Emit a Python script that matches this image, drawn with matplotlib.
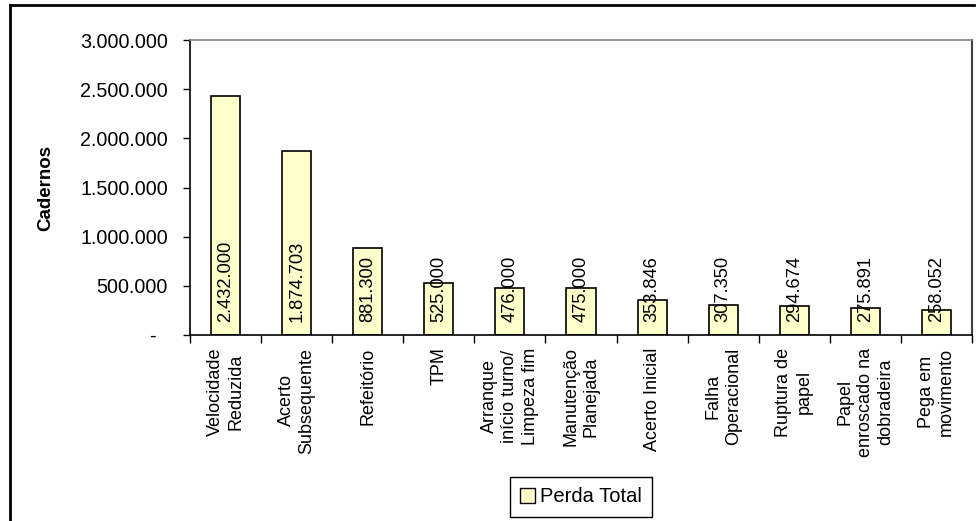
import matplotlib
matplotlib.use("Agg")
import matplotlib.pyplot as plt
from matplotlib.lines import Line2D
from matplotlib.patches import Patch

plt.rcParams['font.family'] = ['Liberation Sans', 'DejaVu Sans']

categories = [
    "Velocidade\nReduzida",
    "Acerto\nSubsequente",
    "Refeitório",
    "TPM",
    "Arranque\ninício turno/\nLimpeza fim",
    "Manutenção\nPlanejada",
    "Acerto Inicial",
    "Falha\nOperacional",
    "Ruptura de\npapel",
    "Papel\nenroscado na\ndobradeira",
    "Pega em\nmovimento",
]
perda_total = [2432000, 1874703, 881300, 525000, 476000, 475000,
               353846, 307350, 294674, 275891, 258052]
y_ticks = [0, 500000, 1000000, 1500000, 2000000, 2500000, 3000000]
y_tick_labels = ["-  ", "500.000", "1.000.000", "1.500.000",
                 "2.000.000", "2.500.000", "3.000.000"]
series_name = "Perda Total"
y_title = "Cadernos"

FS_H = 14.2   # horizontal text
FS_V = 13.0   # rotated text


def fmt_br(v):
    return f"{v:,.0f}".replace(",", ".")


W, H = 978, 521
fig = plt.figure(figsize=(W / 100, H / 100), dpi=100)
fig.patch.set_facecolor("white")

# outer chart frame (top and left edges)
fig.add_artist(Line2D([10 / W, 974 / W], [1 - 5 / H, 1 - 5 / H],
                      transform=fig.transFigure, color="black", lw=2))
fig.add_artist(Line2D([10 / W, 10 / W], [1 - 5 / H, 0],
                      transform=fig.transFigure, color="black", lw=2))

ax = fig.add_axes([190 / W, 1 - 335 / H, (972 - 190) / W, (335 - 40) / H])

n = len(categories)
x = list(range(n))
bar_color = "#FFFFCC"
ax.bar(x, perda_total, width=0.41, color=bar_color, edgecolor="black",
       linewidth=1.2, zorder=2)

for xi, v in zip(x, perda_total):
    ax.annotate(fmt_br(v), xy=(xi, 0), xytext=(0, 9.0),
                textcoords="offset points", rotation=90,
                ha="center", va="bottom", fontsize=FS_V + 0.2,
                color="black", zorder=3)

ax.set_xlim(-0.5, n - 0.5)
ax.set_ylim(0, 3000000)

ax.set_yticks(y_ticks)
ax.set_yticklabels(y_tick_labels, fontsize=FS_H)
ax.tick_params(axis="y", direction="out", length=5, width=1,
               pad=11, colors="black")

ax.set_xticks(x)
ax.set_xticklabels(categories, rotation=90, fontsize=FS_V,
                   multialignment="center", linespacing=1.28)
ax.set_xticks([i - 0.5 for i in range(n + 1)], minor=True)
ax.tick_params(axis="x", which="major", length=0, pad=9)
ax.tick_params(axis="x", which="minor", direction="out", length=6, width=1)

ax.set_ylabel(y_title, fontsize=13.5, fontweight="bold")
ax.yaxis.set_label_coords(-(190 - 54) / (972 - 190), 0.5)

for side in ["left", "bottom"]:
    ax.spines[side].set_color("black")
    ax.spines[side].set_linewidth(1.2)
ax.spines["top"].set_color("#808080")
ax.spines["top"].set_linewidth(1.2)
ax.spines["right"].set_color("#404040")
ax.spines["right"].set_linewidth(1.5)

handle = Patch(facecolor=bar_color, edgecolor="black", linewidth=1)
leg = fig.legend([handle], [series_name], loc="center",
                 bbox_to_anchor=(581 / W, 1 - 497 / H), fontsize=FS_H + 0.3,
                 handlelength=0.7, handleheight=0.7, handletextpad=0.25,
                 borderpad=0.5, borderaxespad=0, fancybox=False,
                 framealpha=1, edgecolor="black")
leg.get_frame().set_linewidth(1)

fig.savefig("out.png", dpi=100, facecolor="white")
